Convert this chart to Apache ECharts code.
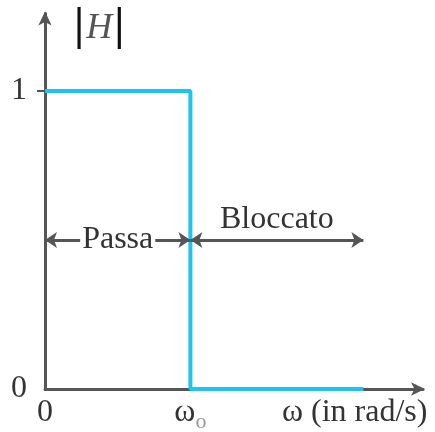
<!DOCTYPE html>
<html>
<head>
<meta charset="utf-8">
<script src="https://cdn.jsdelivr.net/npm/echarts@6/dist/echarts.min.js"></script>
<style>
  html, body { margin: 0; padding: 0; background: #fff; }
  #chart { width: 435px; height: 432px; }
</style>
</head>
<body>
<div id="chart"></div>
<script>
// Ideal low-pass filter magnitude response |H| versus angular frequency
const omega = [0, 1, 1, 2.19];          // frequency, in units of the cutoff ωo
const magnitude = [1, 1, 0, 0];         // |H|
const xTicks = [0, 1, 2.13];
const xTickLabels = ['0', '{w|ω}{sub|o}', 'ω (in rad/s)'];
const yTicks = [0, 1];
const yTickLabels = ['0', '1'];
const bandLevel = 0.5;                  // height of the band arrows
const passBand = [0, 1];
const stopBand = [1, 2.19];
const bandNames = ['Passa', 'Bloccato'];

const FONT = '"Liberation Serif", "DejaVu Serif", serif';
const AXIS = '#555';
const TEXT = '#333';
const BLUE = '#1ec3f3';

const chart = echarts.init(document.getElementById('chart'));

chart.setOption({
  animation: false,
  backgroundColor: '#fff',
  grid: { left: 45, right: 12, top: 13.5, bottom: 43, containLabel: false, outerBoundsMode: 'none' },
  xAxis: {
    type: 'value', min: 0, max: 2.6,
    splitLine: { show: false },
    axisLine: { lineStyle: { color: AXIS, width: 3 }, symbol: ['none', 'arrow'], symbolSize: [10, 14], symbolOffset: [0, 2] },
    axisTick: { show: false },
    axisLabel: {
      customValues: xTicks,
      margin: 8,
      color: TEXT,
      fontFamily: FONT,
      fontSize: 32,
      formatter: v => xTickLabels[xTicks.indexOf(v)],
      rich: {
        w: { fontSize: 32, fontFamily: FONT, color: TEXT, verticalAlign: 'top', lineHeight: 36 },
        sub: { fontSize: 22, color: '#999', fontFamily: FONT, verticalAlign: 'bottom', lineHeight: 22 }
      }
    }
  },
  yAxis: {
    type: 'value', min: 0, max: 1.26,
    splitLine: { show: false },
    axisLine: { lineStyle: { color: AXIS, width: 3 }, symbol: ['none', 'arrow'], symbolSize: [10, 14], symbolOffset: [0, 2] },
    axisTick: { customValues: [1], length: 8, lineStyle: { color: AXIS, width: 2 } },
    axisLabel: {
      customValues: yTicks,
      margin: 18,
      color: TEXT,
      fontFamily: FONT,
      fontSize: 32,
      formatter: v => yTickLabels[yTicks.indexOf(v)]
    }
  },
  graphic: [{
    type: 'text', left: 74, top: 4,
    style: {
      text: '|{h|H}|',
      fill: '#111',
      font: 'bold 46px ' + FONT,
      rich: { h: { fontStyle: 'italic', fontWeight: 'normal', fontSize: 36, fontFamily: FONT, fill: '#555', padding: [4, 2, 0, 2] } }
    }
  }],
  series: [
    {
      // band arrows with their names
      type: 'line', data: [], z: 1,
      markLine: {
        silent: true,
        symbol: ['arrow', 'arrow'],
        symbolSize: 12,
        lineStyle: { color: '#555', width: 3, type: 'solid' },
        data: [
          [{ coord: [passBand[0], bandLevel], label: { formatter: bandNames[0], position: 'middle', backgroundColor: '#fff', padding: [0, 2], verticalAlign: 'middle', distance: 0 } },
           { coord: [passBand[1], bandLevel] }],
          [{ coord: [stopBand[0], bandLevel], label: { formatter: bandNames[1], position: 'insideMiddleTop', distance: 4 } },
           { coord: [stopBand[1], bandLevel] }]
        ],
        label: { color: TEXT, fontFamily: FONT, fontSize: 32 }
      }
    },
    {
      type: 'line', z: 3,
      data: omega.map((w, i) => [w, magnitude[i]]),
      showSymbol: false,
      lineStyle: { color: BLUE, width: 4 },
      itemStyle: { color: BLUE }
    }
  ]
});
</script>
</body>
</html>
